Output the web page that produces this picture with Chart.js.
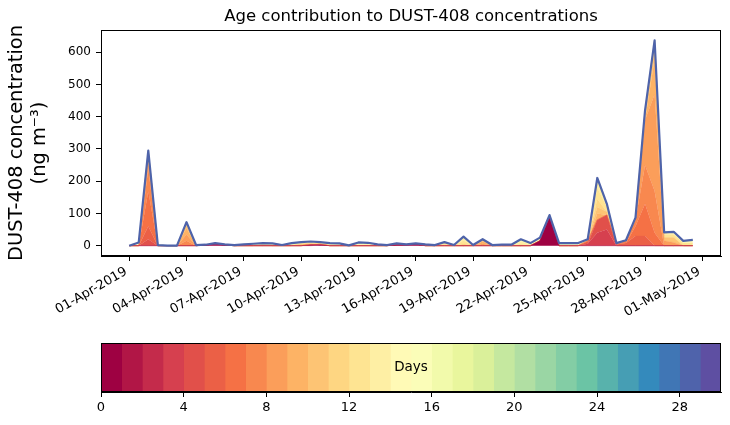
<!DOCTYPE html>
<html>
<head>
<meta charset="utf-8">
<script src="https://cdn.jsdelivr.net/npm/chart.js"></script>
<style>
  body { margin: 0; background: #fff; }
  #wrap { position: relative; width: 730px; height: 425px; }
  canvas { position: absolute; left: 0; }
</style>
</head>
<body>
<div id="wrap">
  <canvas id="ageChart" width="730" height="330" style="top:0"></canvas>
  <canvas id="daysBar" width="730" height="95" style="top:330px"></canvas>
</div>
<script>
// time axis: days after 01-Apr-2019 00:00, every 12 h
const dayOffset = [0, 0.5, 1, 1.5, 2, 2.5, 3, 3.5, 4, 4.5, 5, 5.5, 6, 6.5, 7, 7.5, 8, 8.5, 9, 9.5,
  10, 10.5, 11, 11.5, 12, 12.5, 13, 13.5, 14, 14.5, 15, 15.5, 16, 16.5, 17, 17.5, 18, 18.5, 19, 19.5,
  20, 20.5, 21, 21.5, 22, 22.5, 23, 23.5, 24, 24.5, 25, 25.5, 26, 26.5, 27, 27.5, 28, 28.5, 29, 29.5];

const tickDays = [0, 3, 6, 9, 12, 15, 18, 21, 24, 27, 30];
const tickLabels = ["01-Apr-2019", "04-Apr-2019", "07-Apr-2019", "10-Apr-2019", "13-Apr-2019", "16-Apr-2019",
  "19-Apr-2019", "22-Apr-2019", "25-Apr-2019", "28-Apr-2019", "01-May-2019"];
const yTicks = [0, 100, 200, 300, 400, 500, 600];
const ageDays = [0, 1, 2, 3, 4, 5, 6, 7, 8, 9, 10, 11, 12, 13, 14, 15, 16, 17, 18, 19, 20, 21, 22, 23, 24, 25, 26, 27, 28, 29];
const cbarTicks = [0, 4, 8, 12, 16, 20, 24, 28];

// concentration (ng m-3) carried by each age (days), ages not listed are ~0
const day00 = [0,0,0,0,0,0,0,0,2,4, 2,0,0,0,0,0,0,0,0,0, 2,0,0,0,0,0,0,0,3,3, 4,0,0,0,0,0,0,0,0,0, 0,0,0,15,88,0,0,0,0,0, 0,0,0,0,0,0,0,0,0,0];
const day01 = [0,0,0,0,0,0,0,0,0,2, 0,0,0,0,0,0,0,0,0,3, 0,0,0,0,0,0,0,0,0,0, 1,0,0,0,0,0,0,0,0,0, 0,0,0,0,3,0,0,0,0,0, 0,0,0,0,0,0,0,0,0,0];
const day03 = [0,0,0,0,0,0,0,0,0,0, 0,0,0,0,0,0,0,0,0,0, 2,0,0,0,0,0,0,0,0,0, 0,0,0,0,0,0,0,0,0,0, 0,0,0,0,0,0,0,0,6,40, 50,0,0,0,0,0,0,0,0,0];
const day04 = [0,0,20,0,0,0,0,0,0,0, 0,0,0,0,0,0,0,0,0,0, 0,0,0,0,0,0,0,0,0,0, 0,0,0,0,0,0,0,0,0,0, 0,0,0,0,0,0,0,0,0,40, 45,0,0,0,0,0,0,0,0,0];
const day05 = [0,0,40,0,0,0,0,0,0,0, 0,0,0,0,0,0,0,0,0,0, 0,0,0,0,0,0,0,0,0,0, 0,0,0,0,0,0,0,0,0,0, 0,0,0,0,0,0,0,0,8,0, 0,4,8,30,30,0,0,0,0,0];
const day06 = [0,0,110,0,0,0,0,0,0,0, 0,0,0,0,0,0,0,0,0,0, 0,0,0,0,0,0,0,0,0,0, 0,0,0,0,0,0,0,0,0,0, 0,0,0,0,0,0,0,0,0,0, 0,0,0,30,100,40,0,0,0,0];
const day07 = [0,0,70,0,0,0,15,0,0,0, 0,0,0,0,0,0,0,0,0,0, 0,0,0,0,0,0,0,0,0,0, 0,0,0,0,0,0,0,0,0,0, 0,0,0,0,0,0,0,0,0,0, 0,0,9,20,120,130,0,0,0,0];
const day08 = [0,0,25,0,0,0,20,0,0,0, 0,0,0,0,0,0,0,0,0,0, 0,0,0,0,0,0,0,0,0,0, 0,0,0,0,0,0,0,6,0,0, 0,0,0,0,0,0,0,0,0,0, 0,4,0,0,140,300,15,10,0,0];
const day09 = [0,0,15,0,0,0,20,0,0,0, 0,0,0,0,0,0,0,0,0,0, 0,0,0,0,0,0,0,0,0,0, 0,0,0,0,0,0,0,8,0,0, 0,0,0,0,0,0,0,0,4,20, 0,0,0,0,0,110,0,0,0,0];
const day10 = [0,0,8,0,0,0,10,0,0,0, 0,0,0,0,3,0,0,0,5,4, 0,0,0,0,0,0,0,0,0,0, 0,0,0,0,0,0,0,4,0,0, 0,0,0,0,0,0,0,0,0,20, 10,0,0,7,20,30,10,15,0,0];
const day11 = [0,0,4,0,0,0,5,0,0,0, 0,0,0,0,0,0,0,0,0,0, 4,0,0,0,0,0,0,0,0,0, 0,0,0,4,0,6,0,0,0,0, 0,0,0,0,0,0,0,0,0,25, 0,0,0,0,0,15,0,0,0,0];
const day12 = [0,0,3,2,0,0,3,2,0,0, 0,0,2,3,0,3,0,0,0,0, 0,4,3,0,0,3,0,0,0,0, 0,2,0,4,0,10,0,2,0,0, 0,6,0,0,0,0,0,0,2,35, 15,0,0,0,10,12,10,10,8,8];
const day13 = [0,0,0,0,0,0,0,0,0,0, 0,0,0,0,0,0,0,3,4,4, 0,0,0,0,4,0,0,0,2,0, 0,0,0,0,0,8,0,0,0,0, 0,8,4,6,0,0,0,4,0,30, 10,0,0,0,0,0,6,0,0,0];
const day14 = [0,5,0,0,0,0,0,0,1,0, 2,2,0,0,3,0,0,0,0,0, 3,2,0,0,0,3,2,0,0,0, 2,0,2,3,0,0,2,0,2,0, 1,0,0,0,2,3,3,0,0,0, 0,0,0,0,0,0,0,8,7,10];
const day16 = [0,3,0,0,0,0,0,0,0,0, 0,0,0,3,0,2,0,0,2,2, 0,0,2,1,3,0,0,2,2,1, 0,2,0,0,2,4,0,0,0,1, 0,3,2,4,0,0,0,2,0,0, 0,0,0,0,0,0,0,0,0,0];
const day18 = [0,2,0,0,0,0,0,0,0,2, 0,0,2,0,0,0,2,3,0,0, 0,2,0,0,0,3,2,0,0,0, 0,0,0,0,0,0,0,0,0,0, 0,0,0,0,2,3,3,0,0,0, 0,0,0,0,0,0,0,0,0,0];
const day20 = [0,0,0,0,0,0,0,0,0,0, 0,0,0,0,2,2,0,2,0,0, 0,0,2,0,3,0,0,0,0,0, 0,0,0,0,0,0,0,0,0,2, 2,3,2,0,0,2,2,2,0,0, 0,0,0,0,0,0,0,0,0,0];

const layers = [[0, day00], [1, day01], [3, day03], [4, day04], [5, day05], [6, day06], [7, day07],
  [8, day08], [9, day09], [10, day10], [11, day11], [12, day12], [13, day13], [14, day14],
  [16, day16], [18, day18], [20, day20]];

// Spectral colormap, 30 discrete bins
const spectralStops = ["#9e0142", "#d53e4f", "#f46d43", "#fdae61", "#fee08b", "#ffffbf",
  "#e6f598", "#abdda4", "#66c2a5", "#3288bd", "#5e4fa2"];
const toRgb = (h) => [1, 3, 5].map((k) => parseInt(h.slice(k, k + 2), 16));
const spectral = (t) => {
  const p = t * 10;
  const i = Math.min(9, Math.floor(p));
  const f = p - i;
  const a = toRgb(spectralStops[i]);
  const b = toRgb(spectralStops[i + 1]);
  return `rgb(${a.map((c, k) => Math.round(c + (b[k] - c) * f)).join(",")})`;
};
const ageColour = (age) => spectral(age / 29);

Chart.defaults.font.family = "'DejaVu Sans', sans-serif";
Chart.defaults.color = "#000";

const frame = {
  id: "frame",
  afterDraw(chart) {
    const { ctx, chartArea: a } = chart;
    ctx.save();
    ctx.strokeStyle = "#000";
    ctx.lineWidth = 1;
    ctx.strokeRect(Math.round(a.left) + 0.5, Math.round(a.top) + 0.5,
      Math.round(a.right - a.left) - 1, Math.round(a.bottom - a.top) - 1);
    ctx.restore();
  },
};

// title centred over the axes, like matplotlib
const axesTitle = {
  id: "axesTitle",
  afterDraw(chart) {
    const { ctx, chartArea: a } = chart;
    ctx.save();
    ctx.font = "16.5px 'DejaVu Sans'";
    ctx.fillStyle = "#000";
    ctx.textAlign = "center";
    ctx.textBaseline = "middle";
    ctx.fillText("Age contribution to DUST-408 concentrations", (a.left + a.right) / 2, 17);
    ctx.restore();
  },
};

const renderAgeChart = () => {
  // stack outline first, so it is painted last (on top)
  const total = dayOffset.map((d, i) => layers.reduce((s, [, v]) => s + v[i], 0));
  const datasets = [{
    label: "total",
    data: total.map((v, i) => ({ x: dayOffset[i], y: v })),
    borderColor: "#4e63aa",
    borderWidth: 2.2,
    borderJoinStyle: "round",
    fill: false,
    stack: "total",
    pointRadius: 0,
    tension: 0,
  }];

  layers.forEach(([age, values], k) => {
    datasets.push({
      label: age + " days",
      data: values.map((v, i) => ({ x: dayOffset[i], y: v })),
      backgroundColor: ageColour(age),
      borderColor: ageColour(age),
      borderWidth: 0.3,
      borderJoinStyle: "round",
      fill: k === 0 ? "origin" : "-1",
      stack: "ages",
      pointRadius: 0,
      tension: 0,
    });
  });

  const options = {
    responsive: false,
    animation: false,
    layout: { padding: { left: 0, right: 9, top: 30, bottom: 0 } },
    plugins: {
      legend: { display: false },
      tooltip: { enabled: false },
    },
    scales: {
      x: {
        type: "linear",
        min: -1.475,
        max: 30.975,
        afterBuildTicks: (s) => { s.ticks = tickDays.map((v) => ({ value: v })); },
        afterFit: (s) => { s.height = 74; },
        ticks: {
          callback: (v, i) => tickLabels[i],
          minRotation: 30,
          maxRotation: 30,
          autoSkip: false,
          font: { size: 13 },
          padding: 3,
          labelOffset: -3,
        },
        grid: { drawOnChartArea: false, tickLength: 5, color: "#000" },
        border: { color: "#000" },
      },
      y: {
        stacked: true,
        min: -32,
        max: 669,
        afterBuildTicks: (s) => { s.ticks = yTicks.map((v) => ({ value: v })); },
        afterFit: (s) => { s.width = 101; },
        ticks: { font: { size: 12 }, padding: 5 },
        grid: { drawOnChartArea: false, tickLength: 5, color: "#000" },
        border: { color: "#000" },
        title: {
          display: true,
          text: ["DUST-408 concentration", "(ng m\u207B\u00B3)"],
          font: { size: 19.4 },
          color: "#000",
          padding: { top: 5, bottom: 0 },
        },
      },
    },
  };

  new Chart("ageChart", { type: "line", data: { datasets }, options, plugins: [frame, axesTitle] });
};

const renderColourBar = () => {
  const daysLabel = {
    id: "daysLabel",
    afterDatasetsDraw(chart) {
      const { ctx, chartArea: a } = chart;
      ctx.save();
      ctx.font = "13.5px 'DejaVu Sans'";
      ctx.fillStyle = "#000";
      ctx.textAlign = "center";
      ctx.textBaseline = "middle";
      ctx.fillText("Days", (a.left + a.right) / 2, (a.top + a.bottom) / 2);
      ctx.restore();
    },
  };

  const datasets = ageDays.map((age) => ({
    data: [[age, age + 1]],
    backgroundColor: ageColour(age),
    borderWidth: 0,
    grouped: false,
    barPercentage: 1,
    categoryPercentage: 1,
  }));

  const options = {
    indexAxis: "y",
    responsive: false,
    animation: false,
    layout: { padding: { left: 101, right: 9, top: 13, bottom: 0 } },
    plugins: { legend: { display: false }, tooltip: { enabled: false } },
    scales: {
      x: {
        type: "linear",
        min: 0,
        max: 30,
        afterBuildTicks: (s) => { s.ticks = cbarTicks.map((v) => ({ value: v })); },
        afterFit: (s) => { s.height = 33; },
        ticks: { font: { size: 13 }, padding: 3 },
        grid: { drawOnChartArea: false, tickLength: 5, color: "#000" },
        border: { color: "#000" },
      },
      y: { display: false },
    },
  };

  new Chart("daysBar", { type: "bar", data: { labels: ["Days"], datasets }, options, plugins: [frame, daysLabel] });
};

renderAgeChart();
renderColourBar();
</script>
</body>
</html>
